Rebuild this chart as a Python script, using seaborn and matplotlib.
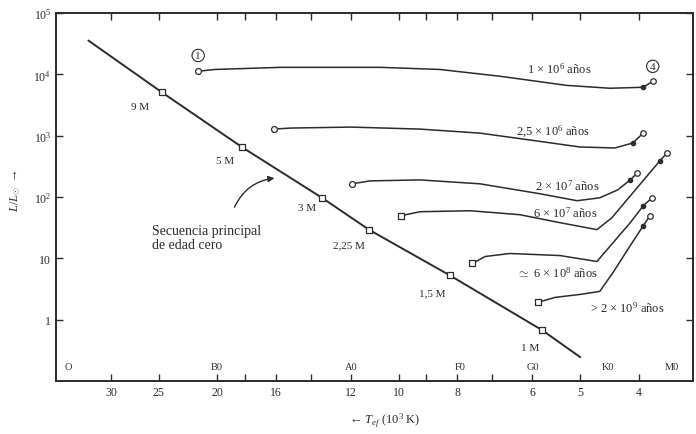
import matplotlib
matplotlib.use("Agg")
import numpy as np
import pandas as pd
import matplotlib.pyplot as plt
import seaborn as sns
from matplotlib.ticker import FixedLocator, FixedFormatter, NullFormatter, NullLocator

# --- datos (T_ef en 10^3 K, L en L_sol) ---
# secuencia principal de edad cero
sp_T = [32.7, 24.7, 18.2, 13.4, 11.2, 8.22, 5.78, 5.0]
sp_L = [35600, 5100, 653, 97, 29.3, 5.26, 0.673, 0.245]
masa_T = [24.7, 18.2, 13.4, 11.2, 8.22, 5.78]
masa_L = [5100, 653, 97, 29.3, 5.26, 0.673]
masa_txt = ["9 M", "5 M", "3 M", "2,25 M", "1,5 M", "1 M"]

# trazas evolutivas
t1_T = [21.5, 20.2, 15.7, 10.7, 8.54, 6.79, 5.26, 4.46, 3.93, 3.79]
t1_L = [11200, 12000, 13000, 13000, 12000, 9300, 6600, 5930, 6150, 7700]
t2_T = [16.1, 15.1, 12.0, 9.22, 7.33, 6.06, 5.0, 4.38, 4.09, 3.93]
t2_L = [1280, 1330, 1380, 1280, 1100, 850, 653, 630, 760, 1100]
t3_T = [11.95, 11.16, 9.22, 7.33, 5.83, 5.06, 4.64, 4.33, 4.13, 4.02]
t3_L = [164, 183, 190, 164, 113, 87, 97, 131, 190, 247]
t4_T = [9.91, 9.22, 7.61, 6.29, 5.40, 4.69, 4.43, 4.13, 3.86, 3.69, 3.59]
t4_L = [49.5, 57.5, 59.7, 51.4, 38.1, 29.4, 45.9, 104, 229, 387, 522]
t5_T = [7.55, 7.19, 6.54, 5.40, 4.69, 4.41, 4.13, 3.93, 3.80]
t5_L = [8.24, 10.7, 12.0, 11.1, 8.88, 18.0, 38.1, 71.9, 97]
t6_T = [5.87, 5.50, 5.00, 4.64, 4.41, 4.13, 3.93, 3.83]
t6_L = [1.92, 2.31, 2.58, 2.89, 5.88, 16.1, 34.1, 49.5]
edades = ["1 × $10^6$ años", "2,5 × $10^6$ años", "2 × $10^7$ años",
          "6 × $10^7$ años", "$\\simeq$ 6 × $10^8$ años", "> 2 × $10^9$ años"]

# ejes
x_ticks = [30, 25, 20, 16, 12, 10, 8, 6, 5, 4]
x_menores = [18, 14, 9, 7]
y_ticks = [1e5, 1e4, 1e3, 1e2, 10, 1]
y_etiquetas = ["$10^5$", "$10^4$", "$10^3$", "$10^2$", "10", "1"]
esp_txt = ["O", "B0", "A0", "F0", "G0", "K0", "M0"]
esp_T = [35.3, 20.0, 12.0, 7.9, 6.0, 4.5, 3.52]

sns.set_theme(style="ticks")
plt.rcParams["font.family"] = ["Liberation Serif", "DejaVu Sans"]
plt.rcParams["mathtext.fontset"] = "custom"
plt.rcParams["mathtext.rm"] = "Liberation Serif"
plt.rcParams["mathtext.it"] = "Liberation Serif:italic"

tinta = "#2b2b2b"

fig = plt.figure(figsize=(6.96, 4.35), dpi=100)
ax = fig.add_axes([56 / 696, 53 / 435, 637 / 696, 368 / 435])

# secuencia principal
df_sp = pd.DataFrame({"T": sp_T, "L": sp_L})
sns.lineplot(data=df_sp, x="T", y="L", sort=False, estimator=None,
             color=tinta, lw=1.4, ax=ax)
ax.scatter(masa_T, masa_L, marker="s", s=14, facecolor="white",
           edgecolor=tinta, lw=0.9, zorder=3)

# trazas
trazas = [(t1_T, t1_L), (t2_T, t2_L), (t3_T, t3_L),
          (t4_T, t4_L), (t5_T, t5_L), (t6_T, t6_L)]
inicio = ["o", "o", "o", "s", "s", "s"]
for (T, L), m in zip(trazas, inicio):
    df = pd.DataFrame({"T": T, "L": L})
    sns.lineplot(data=df, x="T", y="L", sort=False, estimator=None,
                 color=tinta, lw=1.1, ax=ax)
    ax.scatter([T[0]], [L[0]], marker=m, s=18, facecolor="white",
               edgecolor=tinta, lw=0.9, zorder=3)
    ax.scatter([T[-2]], [L[-2]], marker="o", s=9, color=tinta, zorder=3)
    ax.scatter([T[-1]], [L[-1]], marker="o", s=16, facecolor="white",
               edgecolor=tinta, lw=0.9, zorder=3)

ax.set_xscale("log")
ax.set_yscale("log")
ax.set_xlim(37.0, 3.25)
ax.set_ylim(0.1, 1e5)

# etiquetas de masa
pos_masa = [(26.8, 3030), (19.4, 387), (14.2, 66.8), (12.1, 16.8), (8.81, 2.79), (6.06, 0.357)]
for (x, y), s in zip(pos_masa, masa_txt):
    ax.text(x, y, s, fontsize=8, ha="center", va="center", color=tinta)

# etiquetas de edad
pos_edad = [(5.42, 12500), (5.55, 1190), (5.26, 158), (5.29, 55.4), (5.46, 5.88), (4.18, 1.59)]
for (x, y), s in zip(pos_edad, edades):
    ax.text(x, y, s, fontsize=9, ha="center", va="center", color=tinta)

# puntos 1 y 4
ax.text(21.5, 20300, "1", fontsize=8, ha="center", va="center", color=tinta,
        bbox=dict(boxstyle="circle,pad=0.15", fc="white", ec=tinta, lw=0.8))
ax.text(3.79, 13500, "4", fontsize=8, ha="center", va="center", color=tinta,
        bbox=dict(boxstyle="circle,pad=0.15", fc="white", ec=tinta, lw=0.8))

# tipos espectrales
for x, s in zip(esp_T, esp_txt):
    ax.text(x, 0.175, s, fontsize=7.5, ha="center", va="center", color=tinta)

ax.text(25.6, 21.8, "Secuencia principal\nde edad cero", fontsize=10,
        ha="left", va="center", color=tinta, linespacing=1.1)
ax.annotate("", xy=(15.9, 205), xytext=(18.8, 62),
            arrowprops=dict(arrowstyle="-|>", color=tinta, lw=1.0,
                            connectionstyle="arc3,rad=-0.3", mutation_scale=9))

# ticks
ax.xaxis.set_major_locator(FixedLocator(x_ticks))
ax.xaxis.set_major_formatter(FixedFormatter([str(v) for v in x_ticks]))
ax.xaxis.set_minor_locator(FixedLocator(x_menores))
ax.xaxis.set_minor_formatter(NullFormatter())
ax.yaxis.set_major_locator(FixedLocator(y_ticks))
ax.yaxis.set_major_formatter(FixedFormatter(y_etiquetas))
ax.yaxis.set_minor_locator(NullLocator())
ax.tick_params(which="both", direction="in", top=True, right=True,
               length=5, width=1.0, color=tinta, labelsize=8.5, labelcolor=tinta)
for lado in ax.spines.values():
    lado.set_color(tinta)
    lado.set_linewidth(1.4)

ax.set_xlabel("← $T_{ef}$ (10$^3$ K)", fontsize=9, color=tinta)
ax.xaxis.set_label_coords(0.516, -0.082)
ax.set_ylabel("$L/L_{\\odot}$  →", fontsize=9, color=tinta)
ax.yaxis.set_label_coords(-0.052, 0.52)

fig.savefig("out.png", dpi=100, facecolor="white")
